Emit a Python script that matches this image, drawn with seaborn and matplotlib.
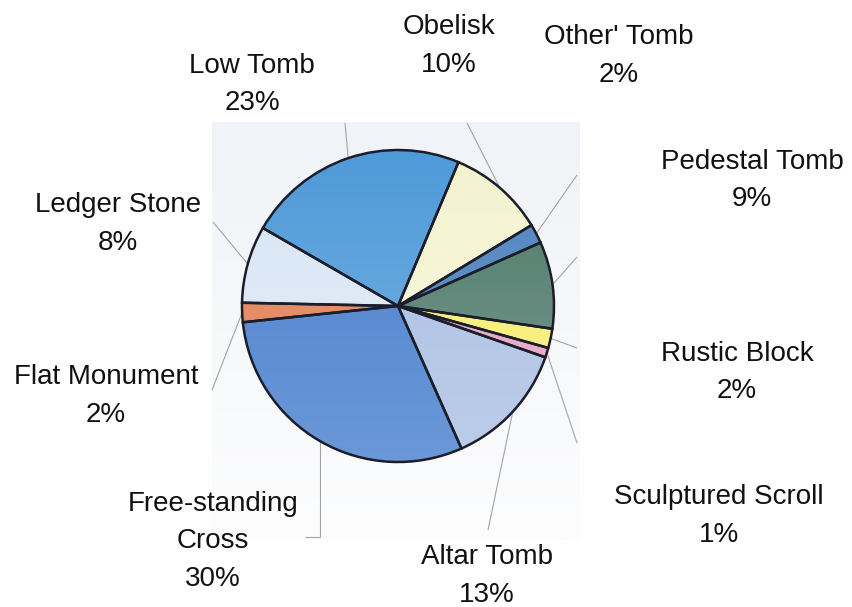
import numpy as np
import matplotlib
matplotlib.use("Agg")
import matplotlib.pyplot as plt
import matplotlib.colors as mcolors
import seaborn as sns

# Monument types recorded in the burial ground survey (share of all monuments, %)
categories = ["Low Tomb", "Obelisk", "Other' Tomb", "Pedestal Tomb", "Rustic Block",
              "Sculptured Scroll", "Altar Tomb", "Free-standing Cross",
              "Flat Monument", "Ledger Stone"]
shares = [23, 10, 2, 9, 2, 1, 13, 30, 2, 8]
label_names = ["Low Tomb", "Obelisk", "Other' Tomb", "Pedestal Tomb", "Rustic Block",
               "Sculptured Scroll", "Altar Tomb", "Free-standing\nCross",
               "Flat Monument", "Ledger Stone"]

# two-tone shading for each slice (upper tone, lower tone)
top_colors = ["#4f9ad9", "#f3f3cf", "#5687c0", "#4b7868", "#f6ee74",
              "#e4a4c6", "#a9bfe3", "#4b7fcd", "#e08660", "#d6e5f4"]
bottom_colors = ["#7ab4e3", "#f8f8e2", "#6494c8", "#7d9e92", "#f8f08a",
                 "#eab2cf", "#bccde9", "#6a98d8", "#e8946e", "#e6eef8"]

W, H = 853, 607
sns.set_theme(style="white")
plt.rcParams["font.family"] = ["Liberation Sans", "DejaVu Sans"]

fig = plt.figure(figsize=(W / 100, H / 100), dpi=100)
fig.patch.set_facecolor("white")
ax = fig.add_axes([0, 0, 1, 1])


def py(y):
    """Convert a top-down pixel row into the axes' bottom-up coordinate."""
    return H - y


cx, cy, R = 398, py(306), 156

# faint panel behind the pie
bg = np.linspace(0, 1, 256)[:, None]
bg_cmap = mcolors.LinearSegmentedColormap.from_list("bg", ["#f0f3f7", "#f6f8fa", "#fdfdfe"])
ax.imshow(bg, cmap=bg_cmap, aspect="auto", origin="upper",
          extent=[212, 580, py(540), py(122)], zorder=0, interpolation="bilinear")

wedges, _ = ax.pie(shares, startangle=150, counterclock=False, center=(cx, cy),
                   radius=R, colors=top_colors,
                   wedgeprops=dict(edgecolor="#1b1d2b", linewidth=1.8))

# shaded fills clipped to each slice, outlines kept on top
grad = np.linspace(0, 1, 256)[:, None]
for w, ct, cb in zip(wedges, top_colors, bottom_colors):
    cmap = mcolors.LinearSegmentedColormap.from_list("g", [ct, cb])
    im = ax.imshow(grad, cmap=cmap, aspect="auto", origin="upper",
                   extent=[cx - R, cx + R, cy - R, cy + R], zorder=2,
                   interpolation="bilinear")
    im.set_clip_path(w)
    w.set_facecolor("none")
    w.set_zorder(3)

# leader lines: from the rim at each slice's mid-angle to its label
leader_ends = [[(345, 123)], [(467, 123)], [(577, 175)], [(577, 257)], [(577, 348)],
               [(577, 443)], [(488, 530)], [(317, 537), (305, 537)],
               [(212, 390)], [(213, 222)]]
for w, ends in zip(wedges, leader_ends):
    mid = np.deg2rad((w.theta1 + w.theta2) / 2)
    xs = [cx + R * np.cos(mid)] + [e[0] for e in ends]
    ys = [cy + R * np.sin(mid)] + [py(e[1]) for e in ends]
    if len(ends) > 1:
        xs[1] = xs[0]
    ax.plot(xs, ys, color="#a3a3a3", lw=0.8, zorder=1, solid_capstyle="butt")

# labels: centre x and first-line baseline (pixels from top)
label_pos = [(252, 73), (449, 34), (619, 44), (752, 169), (737, 361),
             (719, 504), (487, 564), (213, 511), (106, 384), (118, 212)]
line_gap = 37.5
for name, share, (lx, ly) in zip(label_names, shares, label_pos):
    lines = name.split("\n") + [f"{share}%"]
    for i, txt in enumerate(lines):
        ax.text(lx, py(ly + i * line_gap), txt, ha="center", va="baseline",
                fontsize=20, color="#111111", zorder=4)

ax.set_xlim(0, W)
ax.set_ylim(0, H)
ax.set_aspect("auto")
ax.axis("off")

fig.savefig("out.png", dpi=100, facecolor="white")
